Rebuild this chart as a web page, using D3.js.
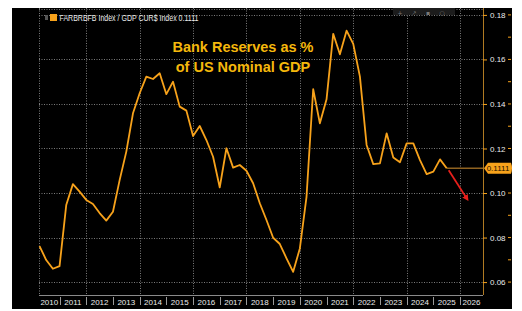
<!DOCTYPE html>
<html>
<head>
<meta charset="utf-8">
<script src="https://cdn.jsdelivr.net/npm/d3@7"></script>
<style>
  html, body { margin: 0; padding: 0; background: #ffffff; }
  svg { display: block; }
</style>
</head>
<body>
<svg id="chart" width="522" height="311"></svg>
<script>
// ---- data (quarterly) ----
const startYear = 2010.25;
const ratio = [
  0.0762, 0.0699, 0.0660, 0.0672, 0.0946, 0.1040, 0.1006, 0.0969,
  0.0951, 0.0910, 0.0876, 0.0916, 0.1058, 0.1186, 0.1358, 0.1448,
  0.1523, 0.1512, 0.1538, 0.1444, 0.1500, 0.1388, 0.1370, 0.1256,
  0.1301, 0.1238, 0.1163, 0.1025, 0.1201, 0.1114, 0.1126, 0.1100,
  0.1044, 0.0954, 0.0879, 0.0799, 0.0771, 0.0707, 0.0646, 0.0751,
  0.0983, 0.1466, 0.1313, 0.1421, 0.1715, 0.1623, 0.1729, 0.1670,
  0.1523, 0.1216, 0.1130, 0.1133, 0.1268, 0.1160, 0.1138, 0.1223,
  0.1223, 0.1148, 0.1085, 0.1096, 0.1151, 0.1111
];
const lastValueLabel = "0.1111";
const yTicks = [0.06, 0.08, 0.10, 0.12, 0.14, 0.16, 0.18];
const yMinorTicks = [0.07, 0.09, 0.11, 0.13, 0.15, 0.17];
const yearLabels = d3.range(2010, 2027);
const gridYears = [2012, 2014, 2016, 2018, 2020, 2022, 2024, 2026];
const arrowPts = [[2025.5, 0.1111], [2026.25, 0.0976]];
const legendText = "FARBRBFB Index / GDP CUR$ Index 0.1111";
const titleLines = ["Bank Reserves as %", "of US Nominal GDP"];

const data = ratio.map((v, i) => ({ t: startYear + i * 0.25, v }));

// ---- layout ----
const svg = d3.select("#chart");
const panel = { x0: 12, y0: 8, x1: 512, y1: 309 };
const plot = { left: 39, right: 483, top: 8, bottom: 295 };

const x = d3.scaleLinear().domain([2010.23, 2026.86]).range([plot.left, plot.right]);
const y = d3.scaleLinear().domain([0.0542, 0.1831]).range([plot.bottom, plot.top]);

const orange = "#f7a21b";
const gridColor = "#7a7a7a";
const textColor = "#ececec";

// background panel
svg.append("rect")
  .attr("x", panel.x0).attr("y", panel.y0)
  .attr("width", panel.x1 - panel.x0).attr("height", panel.y1 - panel.y0)
  .attr("fill", "#000");

// grid
const grid = svg.append("g").attr("stroke", gridColor).attr("stroke-width", 1)
  .attr("stroke-dasharray", "1,1.5");
grid.selectAll("line.h").data(yTicks).join("line")
  .attr("x1", plot.left).attr("x2", plot.right)
  .attr("y1", d => Math.round(y(d)) + 0.5).attr("y2", d => Math.round(y(d)) + 0.5);
grid.selectAll("line.v").data(gridYears).join("line")
  .attr("x1", d => Math.round(x(d)) + 0.5).attr("x2", d => Math.round(x(d)) + 0.5)
  .attr("y1", plot.top).attr("y2", plot.bottom);
// plot border (left / top dotted)
grid.append("line").attr("x1", plot.left + 0.5).attr("x2", plot.left + 0.5)
  .attr("y1", plot.top).attr("y2", plot.bottom);
grid.append("line").attr("x1", plot.left).attr("x2", plot.right)
  .attr("y1", plot.top + 1.5).attr("y2", plot.top + 1.5);

// toolbar (faint)
const tb = svg.append("g");
tb.append("rect").attr("x", 393).attr("y", 8).attr("width", 62).attr("height", 7)
  .attr("fill", "#1c1c1c");
["+", "↗", "▪", "○"].forEach((s, i) => {
  tb.append("text").attr("x", 400 + i * 14).attr("y", 14.5)
    .attr("font-family", "DejaVu Sans").attr("font-size", 6).attr("fill", "#777")
    .attr("text-anchor", "middle").text(s);
});

// x axis line
svg.append("line")
  .attr("x1", plot.left).attr("x2", plot.right)
  .attr("y1", plot.bottom + 0.5).attr("y2", plot.bottom + 0.5)
  .attr("stroke", "#8a8a8a").attr("stroke-width", 1);

// x axis labels and separators
const xg = svg.append("g");
xg.selectAll("line").data(yearLabels.filter(d => x(d) > plot.left && x(d) < plot.right)).join("line")
  .attr("x1", d => Math.round(x(d)) + 0.5).attr("x2", d => Math.round(x(d)) + 0.5)
  .attr("y1", plot.bottom + 2).attr("y2", plot.bottom + 10)
  .attr("stroke", "#9a9a9a").attr("stroke-width", 1);
xg.selectAll("text").data(yearLabels).join("text")
  .attr("x", d => {
    const a = Math.max(x(d), plot.left), b = Math.min(x(d + 1), plot.right);
    return (a + b) / 2;
  })
  .attr("y", plot.bottom + 9.5)
  .attr("text-anchor", "middle")
  .attr("font-family", "Liberation Sans, Arial, sans-serif")
  .attr("font-size", 8).attr("fill", textColor)
  .text(d => d);

// right axis
svg.append("line")
  .attr("x1", plot.right + 0.5).attr("x2", plot.right + 0.5)
  .attr("y1", plot.top).attr("y2", plot.bottom)
  .attr("stroke", "#b07a22").attr("stroke-width", 1);
const ya = d3.axisRight(y).tickValues(yTicks).tickSize(4).tickPadding(3)
  .tickFormat(d3.format(".2f"));
const yg = svg.append("g").attr("transform", `translate(${plot.right},0)`).call(ya);
yg.select(".domain").remove();
yg.selectAll(".tick line").attr("stroke", orange);
yg.selectAll(".tick text").attr("fill", textColor)
  .attr("font-family", "Liberation Sans, Arial, sans-serif").attr("font-size", 8);
// right-edge ticks
svg.append("g").selectAll("line").data(yTicks.concat(yMinorTicks)).join("line")
  .attr("x1", 508).attr("x2", 511)
  .attr("y1", d => y(d)).attr("y2", d => y(d))
  .attr("stroke", orange).attr("stroke-width", 1);

// last value guide line
const last = data[data.length - 1];
svg.append("line")
  .attr("x1", x(last.t)).attr("x2", plot.right)
  .attr("y1", y(last.v)).attr("y2", y(last.v))
  .attr("stroke", "#8f6220").attr("stroke-width", 1.5);

// series line
svg.append("path")
  .datum(data)
  .attr("fill", "none")
  .attr("stroke", orange)
  .attr("stroke-width", 1.8)
  .attr("stroke-linejoin", "round")
  .attr("d", d3.line().x(d => x(d.t)).y(d => y(d.v)));

// red arrow
const defs = svg.append("defs");
defs.append("marker").attr("id", "ah").attr("viewBox", "0 0 10 10")
  .attr("refX", 5).attr("refY", 5).attr("markerWidth", 3.6).attr("markerHeight", 3.6)
  .attr("orient", "auto")
  .append("path").attr("d", "M0,0 L10,5 L0,10 z").attr("fill", "#e8201c");
svg.append("line")
  .attr("x1", x(arrowPts[0][0]) + 2).attr("y1", y(arrowPts[0][1]) + 2)
  .attr("x2", x(arrowPts[1][0])).attr("y2", y(arrowPts[1][1]))
  .attr("stroke", "#e8201c").attr("stroke-width", 1.8)
  .attr("marker-end", "url(#ah)");

// last value label box
const ly = y(last.v);
svg.append("path")
  .attr("d", `M${plot.right + 1},${ly} L${plot.right + 5},${ly - 5.5} L${511},${ly - 5.5} Q${513},${ly} ${511},${ly + 5.5} L${plot.right + 5},${ly + 5.5} Z`)
  .attr("fill", orange);
svg.append("text")
  .attr("x", 498).attr("y", ly + 3)
  .attr("text-anchor", "middle")
  .attr("font-family", "Liberation Sans, Arial, sans-serif")
  .attr("font-size", 8).attr("fill", "#1a1000")
  .text(lastValueLabel);

// legend
svg.append("rect").attr("x", 45).attr("y", 15).attr("width", 3).attr("height", 5)
  .attr("fill", "#555");
svg.append("rect").attr("x", 50).attr("y", 14).attr("width", 7).attr("height", 7)
  .attr("fill", orange);
svg.append("text")
  .attr("x", 59.5).attr("y", 20.5)
  .attr("font-family", "Liberation Sans, Arial, sans-serif")
  .attr("font-size", 8.5).attr("fill", textColor)
  .attr("textLength", 139).attr("lengthAdjust", "spacingAndGlyphs")
  .text(legendText);

// title
const tt = svg.append("g").attr("font-family", "Liberation Sans, Arial, sans-serif")
  .attr("font-weight", "bold").attr("font-size", 14.5).attr("fill", "#f5b80c")
  .attr("text-anchor", "middle");
titleLines.forEach((s, i) => {
  tt.append("text").attr("x", 243).attr("y", 52 + i * 20).text(s);
});
</script>
</body>
</html>
